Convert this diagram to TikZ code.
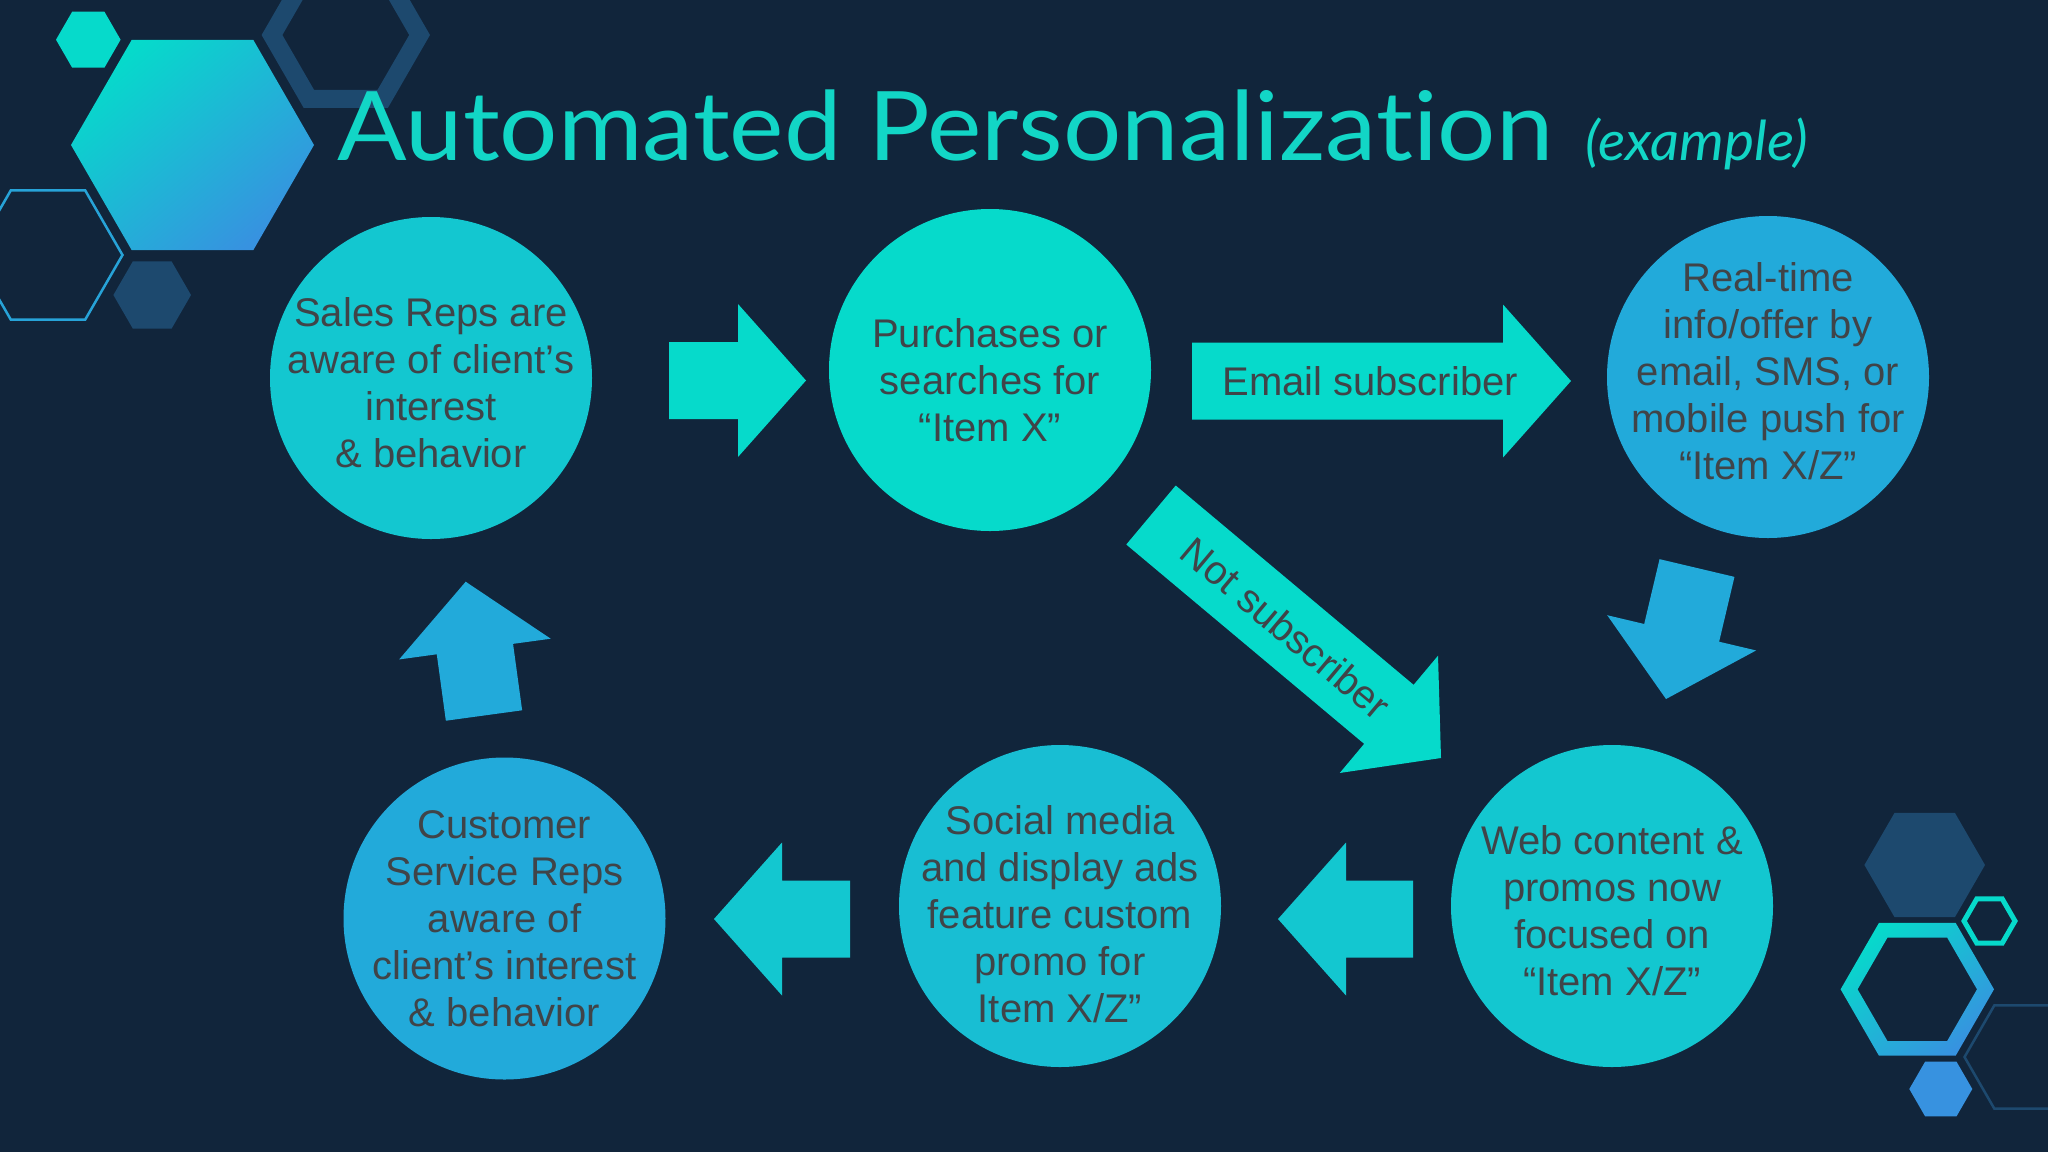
\documentclass[tikz,border=0pt]{standalone}
\usepackage{fontspec}
\setmainfont{Liberation Sans}
\newfontfamily\titlefont[Ligatures=NoCommon]{Lato}
\usetikzlibrary{calc}
\definecolor{bg}{HTML}{11253B}
\definecolor{teal1}{HTML}{06DACB}
\definecolor{cyan1}{HTML}{13C7D0}
\definecolor{cyan2}{HTML}{18BED3}
\definecolor{blue1}{HTML}{22AADA}
\definecolor{navy}{HTML}{1D496E}
\definecolor{hexblue}{HTML}{3792E0}
\definecolor{hexlight}{HTML}{27A3D8}
\definecolor{txt}{HTML}{404448}
\definecolor{titlec}{HTML}{12D6C6}
\newsavebox\ttlbox
\newsavebox\exbox
\newlength\ttlw
\newlength\exw
\newcommand\hexpath[3]{(#1+#3,#2) -- (#1+0.5*#3,#2+0.866*#3) -- (#1-0.5*#3,#2+0.866*#3) -- (#1-#3,#2) -- (#1-0.5*#3,#2-0.866*#3) -- (#1+0.5*#3,#2-0.866*#3) -- cycle}
\newcommand\blockarrow[3]{%
  \coordinate (bah) at ($(#3)!68pt!(#2)$);
  \fill[#1] ($(#2)!38.5pt!90:(#3)$) -- ($(bah)!38.5pt!90:(#3)$) -- ($(bah)!76.5pt!90:(#3)$) -- (#3) -- ($(bah)!76.5pt!-90:(#3)$) -- ($(bah)!38.5pt!-90:(#3)$) -- ($(#2)!38.5pt!-90:(#3)$) -- cycle;}
\tikzset{
  circ/.style={circle, minimum size=322pt, inner sep=0pt},
  ctext/.style={text=txt, align=center, inner sep=0pt, font=\fontsize{40}{47}\selectfont}
}
\begin{document}
\sbox\ttlbox{\color{titlec}\titlefont\fontsize{96}{100}\selectfont Automated Personalization}%
\setlength\ttlw{\wd\ttlbox}%
\pgfmathsetmacro\ttlsx{1216pt/\ttlw}%
\sbox\exbox{\color{titlec}\titlefont\itshape\fontsize{55}{60}\selectfont (example)}%
\setlength\exw{\wd\exbox}%
\pgfmathsetmacro\exsx{223pt/\exw}%
\begin{tikzpicture}[x=1pt,y=-1pt]
\fill[bg] (0,0) rectangle (2048,1152);
\useasboundingbox (0,0) rectangle (2048,1152);
% top-left hexagons
\draw[navy, line width=18pt] \hexpath{345.8}{35}{73.8};
\draw[hexlight, line width=2.5pt] \hexpath{48}{255}{74.5};
\fill[navy] \hexpath{152.2}{295}{38.8};
\fill[teal1] \hexpath{88.3}{39.7}{32.3};
\shade[top color=teal1, bottom color=hexblue, shading angle=40] \hexpath{192.5}{145}{121.5};
% bottom-right hexagons
\draw[navy, line width=2.5pt] \hexpath{2024}{1057}{59.5};
\fill[navy] \hexpath{1924.7}{865}{60.3};
\shade[even odd rule, top color=teal1, bottom color=hexblue, shading angle=40] \hexpath{1917.3}{989.3}{76.7} \hexpath{1917.3}{989.3}{59.7};
\draw[teal1, line width=5pt] \hexpath{1989.5}{921}{25.5};
\fill[hexblue] \hexpath{1940.8}{1089}{31.5};
% title
\node[anchor=base west, inner sep=0pt, text=titlec] (title) at (337,160) {\scalebox{\ttlsx}[1]{\usebox\ttlbox}};
\node[anchor=base west, inner sep=0pt, text=titlec] (example) at (1585,160) {\scalebox{\exsx}[1]{\usebox\exbox}};
% circles
\node[circ, fill=cyan1] (c1) at (431,378) {};
\node[circ, fill=teal1] (c2) at (990,370) {};
\node[circ, fill=blue1] (c3) at (1768,377) {};
\node[circ, fill=cyan1] (c4) at (1612,906) {};
\node[circ, fill=cyan2] (c5) at (1060,906) {};
\node[circ, fill=blue1] (c6) at (504.5,918.5) {};
\node[ctext] (t1) at ($(c1)+(0,5)$) {Sales Reps are\\aware of client’s\\interest\\\& behavior};
\node[ctext] (t2) at ($(c2)+(0,10)$) {Purchases or\\searches for\\“Item X”};
\node[ctext] (t3) at ($(c3)+(0,-6)$) {Real-time\\info/offer by\\email, SMS, or\\mobile push for\\“Item X/Z”};
\node[ctext] (t4) at ($(c4)+(0,5)$) {Web content \&\\promos now\\focused on\\“Item X/Z”};
\node[ctext] (t5) at ($(c5)+(0,8)$) {Social media\\and display ads\\feature custom\\promo for\\Item X/Z”};
\node[ctext] (t6) at ($(c6)+(0,0)$) {Customer\\Service Reps\\aware of\\client’s interest\\\& behavior};
% arrow end points
\coordinate (a1t) at (669,380.5);  \coordinate (a1h) at (806,380.5);
\coordinate (a2t) at (1192,381);   \coordinate (a2h) at (1571,381);
\coordinate (a3t) at (1151,515);   \coordinate (a3h) at (1441,758);
\coordinate (a4t) at (1697,568);   \coordinate (a4h) at (1666,699);
\coordinate (a5t) at (1413,919);   \coordinate (a5h) at (1278,919);
\coordinate (a6t) at (850,919);    \coordinate (a6h) at (714,919);
\coordinate (a7t) at (484,715.5);  \coordinate (a7h) at (465.7,581.7);
\blockarrow{teal1}{a1t}{a1h}
\blockarrow{teal1}{a2t}{a2h}
\blockarrow{teal1}{a3t}{a3h}
\blockarrow{blue1}{a4t}{a4h}
\blockarrow{cyan1}{a5t}{a5h}
\blockarrow{cyan1}{a6t}{a6h}
\blockarrow{blue1}{a7t}{a7h}
\node[ctext] (l1) at ($(a2t)!0.47!(a2h)$) {Email subscriber};
\node[ctext, rotate=-40] (l2) at ($(a3t)!0.465!(a3h)$) {Not subscriber};
\end{tikzpicture}
\end{document}
